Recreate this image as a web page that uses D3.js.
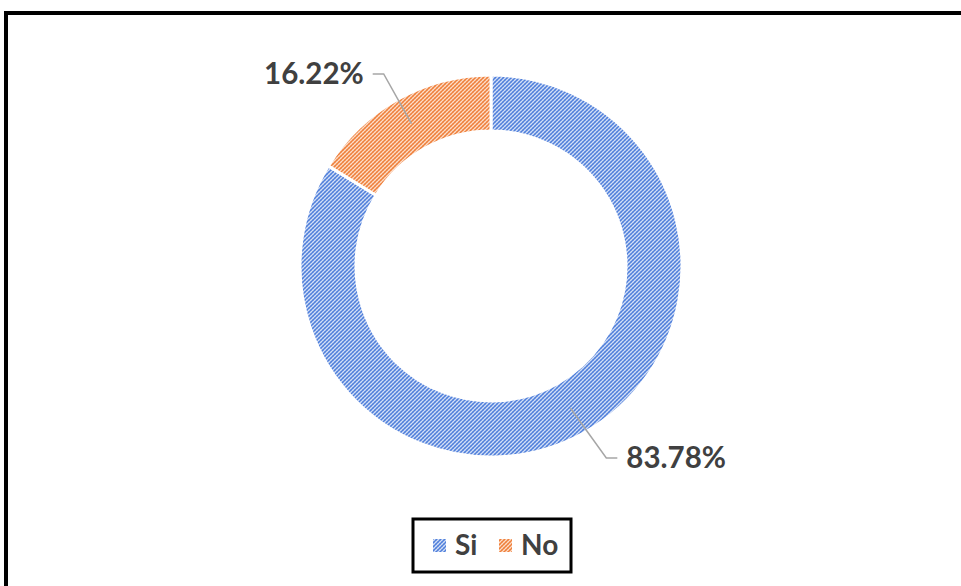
<!DOCTYPE html>
<html>
<head>
<meta charset="utf-8">
<script src="https://cdn.jsdelivr.net/npm/d3@7"></script>
<style>
  html, body { margin: 0; padding: 0; background: #fff; }
  svg { display: block; }
  text { font-family: Lato, "Open Sans", sans-serif; font-weight: bold; fill: #404040; }
</style>
</head>
<body>
<svg id="chart" width="961" height="586"></svg>
<script>
// Survey answers
const categories = ["Si", "No"];
const values = [83.78, 16.22];
const colors = ["#4F7FDB", "#EF7F3A"];
const tints = ["#D3DFF6", "#FCDDC9"];

const W = 961, H = 586;
const cx = 491, cy = 266;
const outerR = 191, innerR = 135;

const svg = d3.select("#chart");

// Chart frame (thick black border)
svg.append("rect")
  .attr("x", 6).attr("y", 13)
  .attr("width", W + 20).attr("height", H + 20)
  .attr("fill", "#fff")
  .attr("stroke", "#000")
  .attr("stroke-width", 4);

// Hatched fills, one per category
const defs = svg.append("defs");
categories.forEach((c, i) => {
  const p = defs.append("pattern")
    .attr("id", "hatch-" + i)
    .attr("patternUnits", "userSpaceOnUse")
    .attr("width", 4).attr("height", 4);
  p.append("rect").attr("width", 4).attr("height", 4).attr("fill", tints[i]);
  p.append("path")
    .attr("d", "M-1,1 l2,-2 M0,4 l4,-4 M3,5 l2,-2")
    .attr("stroke", colors[i]).attr("stroke-width", 1.4);
  p.append("path")
    .attr("d", "M0,0 l4,4")
    .attr("stroke", colors[i]).attr("stroke-width", 0.5).attr("stroke-opacity", 0.6);
});

const pie = d3.pie().sort(null).value(d => d);
const arcs = pie(values);
const arc = d3.arc().innerRadius(innerR).outerRadius(outerR);

const g = svg.append("g").attr("transform", `translate(${cx},${cy})`);

g.selectAll("path.slice")
  .data(arcs)
  .join("path")
  .attr("class", "slice")
  .attr("d", arc)
  .attr("fill", (d, i) => `url(#hatch-${i})`)
  .attr("stroke", "#fff")
  .attr("stroke-width", 3);

// Data labels with leader lines
const midR = (innerR + outerR) / 2;
const elbowR = 220;
const fmt = v => v.toFixed(2) + "%";

arcs.forEach((d, i) => {
  const a = (d.startAngle + d.endAngle) / 2;
  const sx = Math.sin(a), sy = -Math.cos(a);
  const p0 = [sx * midR, sy * midR];
  const p1 = [sx * elbowR + (sx > 0 ? 8 : 0), sy * elbowR];
  const dir = sx > 0 ? 1 : -1;
  const p2 = [p1[0] + dir * 11, p1[1]];
  g.append("polyline")
    .attr("points", [p0, p1, p2].map(p => p.join(",")).join(" "))
    .attr("fill", "none")
    .attr("stroke", "#A6A6A6")
    .attr("stroke-width", 1.5);
  g.append("text")
    .attr("x", p2[0] + dir * 9)
    .attr("y", p2[1])
    .attr("dy", "0.35em")
    .attr("text-anchor", dir > 0 ? "start" : "end")
    .attr("font-size", 29.5)
    .text(fmt(values[i]));
});

// Legend
const legend = svg.append("g");
legend.append("rect")
  .attr("x", 413).attr("y", 519)
  .attr("width", 158).attr("height", 53)
  .attr("fill", "#fff")
  .attr("stroke", "#000")
  .attr("stroke-width", 3);

const itemX = [433, 499];
categories.forEach((c, i) => {
  legend.append("rect")
    .attr("x", itemX[i]).attr("y", 539)
    .attr("width", 13).attr("height", 13)
    .attr("fill", `url(#hatch-${i})`);
  legend.append("text")
    .attr("x", itemX[i] + 22)
    .attr("y", 545)
    .attr("dy", "0.35em")
    .attr("font-size", 28)
    .text(c);
});
</script>
</body>
</html>
